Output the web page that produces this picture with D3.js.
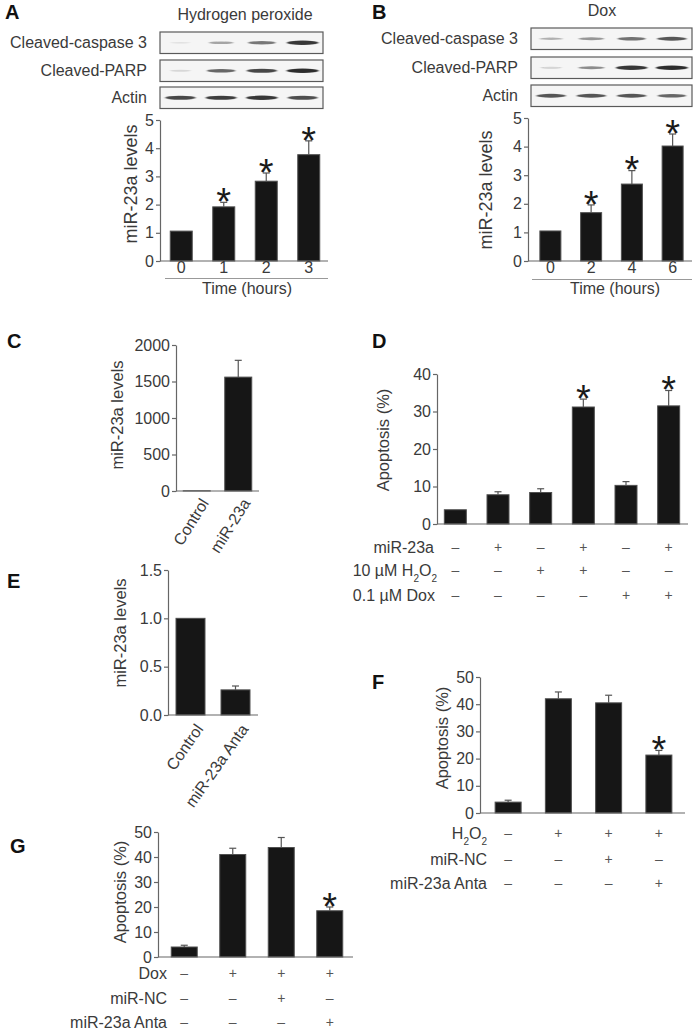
<!DOCTYPE html>
<html><head><meta charset="utf-8">
<script src="https://cdn.jsdelivr.net/npm/d3@7/dist/d3.min.js"></script>
<style>html,body{margin:0;padding:0;background:#fff}svg{display:block}</style>
</head><body>
<script>
// ---------- DATA ----------
const timeA = ["0","1","2","3"];
const valA  = [1.06, 1.92, 2.83, 3.77];
const errA  = [1.06, 2.08, 3.12, 4.26];
const sigA  = [0, 1, 1, 1];

const timeB = ["0","2","4","6"];
const valB  = [1.05, 1.69, 2.69, 4.02];
const errB  = [1.05, 1.96, 3.16, 4.44];
const sigB  = [0, 1, 1, 1];

const blotRows = ["Cleaved-caspase 3","Cleaved-PARP","Actin"];
const blotA = [[0.04,0.38,0.6,0.95],[0.08,0.7,0.85,1.0],[0.85,0.9,0.95,0.82]];
const blotB = [[0.3,0.45,0.65,0.78],[0.12,0.5,0.95,1.0],[0.78,0.78,0.78,0.7]];

const catC = ["Control","miR-23a"];
const valC = [3, 1560];
const errC = [3, 1790];
const ticksC = [0,500,1000,1500,2000];

const catD = ["d1","d2","d3","d4","d5","d6"];
const valD = [3.8, 7.8, 8.4, 31.2, 10.3, 31.5];
const errD = [3.8, 8.6, 9.4, 33.3, 11.3, 35.6];
const sigD = [0,0,0,1,0,1];
const rowD1 = ["–","+","–","+","–","+"];
const rowD2 = ["–","–","+","+","–","–"];
const rowD3 = ["–","–","–","–","+","+"];

const catE = ["Control","miR-23a Anta"];
const valE = [1.0, 0.26];
const errE = [1.0, 0.30];
const ticksE = [0,0.5,1.0,1.5];

const catF = ["f1","f2","f3","f4"];
const valF = [4.0, 42.0, 40.5, 21.3];
const errF = [4.7, 44.5, 43.3, 23.0];
const sigF = [0,0,0,1];
const rowF1 = ["–","+","+","+"];
const rowF2 = ["–","–","+","–"];
const rowF3 = ["–","–","–","+"];

const catG = ["g1","g2","g3","g4"];
const valG = [4.0, 41.0, 43.8, 18.5];
const errG = [4.7, 43.5, 47.8, 20.0];
const sigG = [0,0,0,1];
const rowG1 = ["–","+","+","+"];
const rowG2 = ["–","–","+","–"];
const rowG3 = ["–","–","–","+"];

// ---------- DRAW ----------
const FONT = "'Liberation Sans', Arial, Helvetica, sans-serif";
const TXT = "#3a3a3a", AX = "#666";
const svg = d3.select("body").append("svg").attr("width",697).attr("height",1030)
  .style("font-family", FONT);
svg.append("rect").attr("width",697).attr("height",1030).attr("fill","#fff");
const defs = svg.append("defs");
defs.append("filter").attr("id","blur").attr("x","-50%").attr("y","-300%").attr("width","200%").attr("height","700%")
  .append("feGaussianBlur").attr("stdDeviation","1.2 0.6");

function letter(t,x,y){
  svg.append("text").attr("x",x).attr("y",y).text(t).attr("font-weight","bold")
    .attr("font-size",20).attr("fill","#111");
}
function text(t,x,y,opt={}){
  return svg.append("text").attr("x",x).attr("y",y).text(t)
    .attr("font-size",opt.size||16).attr("fill",opt.fill||TXT)
    .attr("text-anchor",opt.anchor||"start");
}
function ylabel(t,cx,cy,size){
  svg.append("text").attr("transform",`translate(${cx},${cy}) rotate(-90)`)
    .attr("text-anchor","middle").attr("dominant-baseline","central")
    .attr("font-size",size).attr("fill",TXT).text(t);
}

function blot(x0,x1,tops,h,labelX,data){
  const lane = d3.scaleBand().domain(d3.range(4)).range([x0,x1]);
  data.forEach((row,r)=>{
    const y0 = tops[r];
    svg.append("rect").attr("x",x0).attr("y",y0).attr("width",x1-x0).attr("height",h)
      .attr("fill","#f5f5f5").attr("stroke","#5a5a5a").attr("stroke-width",1.2);
    svg.append("g").attr("filter","url(#blur)").selectAll("ellipse").data(row).join("ellipse")
      .attr("cx",(d,i)=>lane(i)+lane.bandwidth()/2)
      .attr("cy",y0+h/2)
      .attr("rx",d=>10+6*d)
      .attr("ry",d=>0.8+1.4*d)
      .attr("fill","#222").attr("opacity",d=>Math.min(1,0.05+0.9*d));
    text(blotRows[r], labelX, y0+h/2+5.5, {anchor:"end"});
  });
}

function barPanel(p){
  const g = svg.append("g");
  const x = d3.scaleBand().domain(p.cats).range(p.band);
  const y = d3.scaleLinear().domain(p.yDomain).range(p.yRange);
  const cx = i => x(p.cats[i]) + x.bandwidth()/2;
  g.selectAll("rect.bar").data(p.vals).join("rect").attr("class","bar")
    .attr("x",(d,i)=>cx(i)-p.barW/2).attr("y",d=>y(d))
    .attr("width",p.barW).attr("height",d=>y(0)-y(d))
    .attr("fill","#161616").attr("stroke","#505050").attr("stroke-width",1);
  p.errs.forEach((e,i)=>{
    if (e <= p.vals[i]) return;
    g.append("line").attr("x1",cx(i)).attr("x2",cx(i)).attr("y1",y(p.vals[i])).attr("y2",y(e))
      .attr("stroke","#555").attr("stroke-width",1.2);
    g.append("line").attr("x1",cx(i)-3.5).attr("x2",cx(i)+3.5).attr("y1",y(e)).attr("y2",y(e))
      .attr("stroke","#555").attr("stroke-width",1.2);
  });
  if (p.sig) p.sig.forEach((s,i)=>{
    if(!s) return;
    const c = y(p.errs[i]) - 9;
    g.append("text").attr("x",cx(i)).attr("y",c + 0.575*38).attr("text-anchor","middle")
      .attr("font-size",38).attr("fill","#1a1a1a").text("*");
  });
  const ax = d3.axisLeft(y).tickValues(p.ticks).tickFormat(p.fmt || d3.format("d"))
    .tickSize(4).tickSizeOuter(0).tickPadding(2);
  const ag = g.append("g").attr("transform",`translate(${p.axisX},0)`).call(ax);
  ag.select(".domain").attr("stroke",AX).attr("stroke-width",1.2);
  ag.selectAll(".tick line").attr("stroke",AX).attr("stroke-width",1.2);
  ag.selectAll(".tick text").attr("fill",TXT).attr("font-size",16).attr("font-family",FONT);
  g.append("line").attr("x1",p.axisX).attr("x2",p.xEnd).attr("y1",y(0)).attr("y2",y(0))
    .attr("stroke",AX).attr("stroke-width",1.2);
  if (p.xlab === "plain") {
    p.cats.forEach((c,i)=>{
      g.append("text").attr("x",cx(i)).attr("y",y(0)+12).attr("text-anchor","middle")
        .attr("font-size",16).attr("fill",TXT).text(c);
    });
  } else if (p.xlab === "rot") {
    p.cats.forEach((c,i)=>{
      g.append("text").attr("transform",`translate(${cx(i)+p.rdx},${y(0)+p.rdy}) rotate(${p.rot})`)
        .attr("text-anchor","end").attr("dominant-baseline","central")
        .attr("font-size",16).attr("fill",TXT).text(c);
    });
  }
  if (p.rows) p.rows.forEach((r,k)=>{
    r.vals.forEach((s,i)=>{
      g.append("text").attr("x",cx(i)).attr("y",r.y).attr("text-anchor","middle")
        .attr("dominant-baseline","central").attr("font-size",14).attr("fill","#555").text(s);
    });
  });
  return {x,y};
}

function rowLabel(parts, xr, yc){
  const t = svg.append("text").attr("x",xr).attr("y",yc+5.5).attr("text-anchor","end")
    .attr("font-size",16).attr("fill",TXT);
  parts.forEach(pt=>{
    const ts = t.append("tspan").text(pt.t);
    if (pt.sub) ts.attr("font-size",10).attr("baseline-shift","sub");
  });
}

// ----- Panel A -----
letter("A",5,19);
text("Hydrogen peroxide",245,20,{anchor:"middle"});
blot(160,323,[32,60,87],21.5,147,blotA);
barPanel({cats:timeA, vals:valA, errs:errA, sig:sigA, band:[160,330], barW:22,
  yDomain:[0,5], yRange:[261,120], ticks:[0,1,2,3,4,5], axisX:160, xEnd:328, xlab:"plain"});
svg.append("line").attr("x1",165).attr("x2",328).attr("y1",278.5).attr("y2",278.5).attr("stroke","#999").attr("stroke-width",1.2);
text("Time (hours)",247,294,{anchor:"middle"});
ylabel("miR-23a levels",131,184,18);

// ----- Panel B -----
letter("B",372,19);
text("Dox",602,16,{anchor:"middle"});
blot(531,692,[28,57,85],21.5,518,blotB);
barPanel({cats:timeB, vals:valB, errs:errB, sig:sigB, band:[530,693], barW:21,
  yDomain:[0,5], yRange:[261,118], ticks:[0,1,2,3,4,5], axisX:528, xEnd:692, xlab:"plain"});
svg.append("line").attr("x1",532).attr("x2",692).attr("y1",279.5).attr("y2",279.5).attr("stroke","#999").attr("stroke-width",1.2);
text("Time (hours)",615,294,{anchor:"middle"});
ylabel("miR-23a levels",486,190,18);

// ----- Panel C -----
letter("C",7,348);
barPanel({cats:catC, vals:valC, errs:errC, band:[176,259], barW:27,
  yDomain:[0,2000], yRange:[491,345], ticks:ticksC, axisX:176, xEnd:259, xlab:"rot", rot:-58, rdx:8, rdy:9});
ylabel("miR-23a levels",117,415,16.5);

// ----- Panel D -----
letter("D",372,348);
barPanel({cats:catD, vals:valD, errs:errD, sig:sigD, band:[434,690], barW:22,
  yDomain:[0,40], yRange:[524,374], ticks:[0,10,20,30,40], axisX:437, xEnd:688,
  rows:[{vals:rowD1,y:547},{vals:rowD2,y:570},{vals:rowD3,y:595}]});
rowLabel([{t:"miR-23a"}],434,547);
rowLabel([{t:"10 µM H"},{t:"2",sub:1},{t:"O"},{t:"2",sub:1}],437,570);
rowLabel([{t:"0.1 µM Dox"}],435,595);
ylabel("Apoptosis (%)",383,440,16.5);

// ----- Panel E -----
letter("E",7,588);
barPanel({cats:catE, vals:valE, errs:errE, band:[168,258], barW:29,
  yDomain:[0,1.5], yRange:[715,570], ticks:ticksE, fmt:d3.format(".1f"), axisX:168, xEnd:258,
  xlab:"rot", rot:-55, rdx:9, rdy:11});
ylabel("miR-23a levels",120,633,16.5);

// ----- Panel F -----
letter("F",372,689);
barPanel({cats:catF, vals:valF, errs:errF, sig:sigF, band:[483,684], barW:26,
  yDomain:[0,50], yRange:[813,677], ticks:[0,10,20,30,40,50], axisX:480, xEnd:685,
  rows:[{vals:rowF1,y:833},{vals:rowF2,y:859},{vals:rowF3,y:883}]});
rowLabel([{t:"H"},{t:"2",sub:1},{t:"O"},{t:"2",sub:1}],487,833);
rowLabel([{t:"miR-NC"}],487,859);
rowLabel([{t:"miR-23a Anta"}],487,883);
ylabel("Apoptosis (%)",442,738,16.5);

// ----- Panel G -----
letter("G",10,853);
barPanel({cats:catG, vals:valG, errs:errG, sig:sigG, band:[160,354], barW:26,
  yDomain:[0,50], yRange:[957,832], ticks:[0,10,20,30,40,50], axisX:158, xEnd:353,
  rows:[{vals:rowG1,y:973},{vals:rowG2,y:998},{vals:rowG3,y:1022}]});
rowLabel([{t:"Dox"}],167,973);
rowLabel([{t:"miR-NC"}],167,998);
rowLabel([{t:"miR-23a Anta"}],167,1022);
ylabel("Apoptosis (%)",120,892,16.5);
</script>
</body></html>
